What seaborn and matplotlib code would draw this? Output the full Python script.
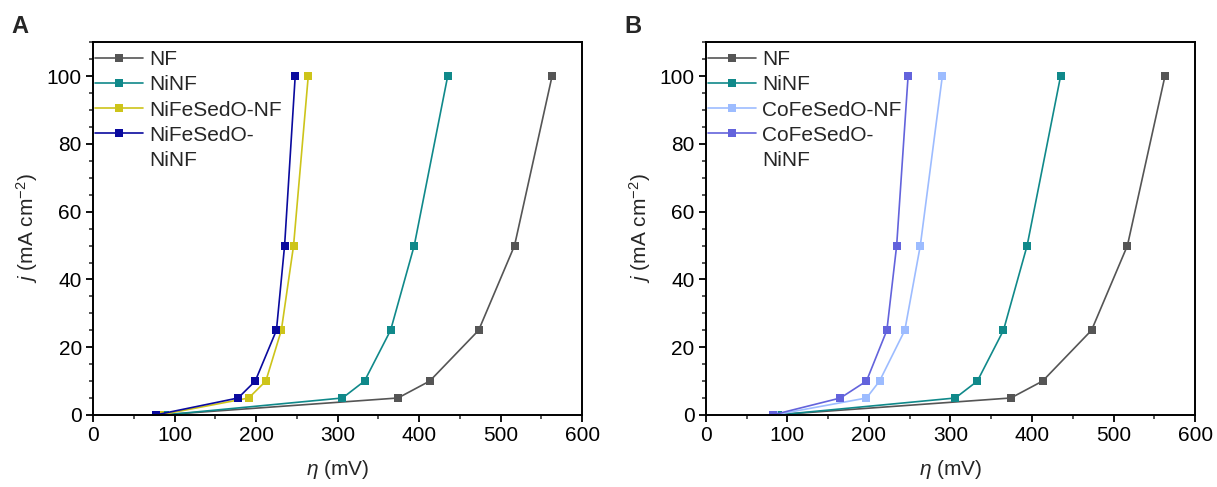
import numpy as np
import pandas as pd
import matplotlib
matplotlib.use("Agg")
import matplotlib.pyplot as plt
import seaborn as sns
from matplotlib.lines import Line2D
from matplotlib.ticker import MultipleLocator

sns.set_theme(style="ticks")
plt.rcParams['font.family'] = ['Liberation Sans', 'DejaVu Sans']
plt.rcParams['mathtext.fontset'] = 'custom'
plt.rcParams['mathtext.it'] = 'Liberation Sans:italic'
plt.rcParams['mathtext.rm'] = 'Liberation Sans'

# current density levels (mA cm^-2)
j_levels = [0, 5, 10, 25, 50, 100]

# overpotentials (mV)
eta_nf = [84, 374, 413, 473, 517, 563]
eta_ninf = [88, 306, 333, 365, 394, 435]
eta_nife_nf = [82, 191, 212, 231, 246, 264]
eta_nife_ninf = [77, 178, 199, 225, 235, 248]
eta_cofe_nf = [84, 197, 213, 244, 263, 290]
eta_cofe_ninf = [82, 165, 197, 222, 234, 248]

names_a = ['NF', 'NiNF', 'NiFeSedO-NF', 'NiFeSedO-NiNF']
names_b = ['NF', 'NiNF', 'CoFeSedO-NF', 'CoFeSedO-NiNF']
colors_a = ['#555555', '#10898a', '#cdc41a', '#0a0a9e']
colors_b = ['#555555', '#10898a', '#9dbcff', '#6363dc']


def make_df(names, etas):
    rows = []
    for n, e in zip(names, etas):
        for x, y in zip(e, j_levels):
            rows.append({'sample': n, 'eta': x, 'j': y})
    return pd.DataFrame(rows)


df_a = make_df(names_a, [eta_nf, eta_ninf, eta_nife_nf, eta_nife_ninf])
df_b = make_df(names_b, [eta_nf, eta_ninf, eta_cofe_nf, eta_cofe_ninf])

fs = 15
fig = plt.figure(figsize=(12.17, 4.87), dpi=100)
ax_a = fig.add_axes([0.0764, 0.148, 0.402, 0.765])
ax_b = fig.add_axes([0.580, 0.148, 0.402, 0.765])

for ax, df, names, cols, letter, lx in [(ax_a, df_a, names_a, colors_a, 'A', 0.009),
                                        (ax_b, df_b, names_b, colors_b, 'B', 0.513)]:
    sns.lineplot(data=df, x='eta', y='j', hue='sample', hue_order=names,
                 palette=cols, marker='s', markersize=6, markeredgewidth=0,
                 linewidth=1.2, sort=False, ax=ax, estimator=None)
    ax.set_xlim(0, 600)
    ax.set_ylim(0, 110)
    ax.xaxis.set_major_locator(MultipleLocator(100))
    ax.xaxis.set_minor_locator(MultipleLocator(50))
    ax.yaxis.set_major_locator(MultipleLocator(20))
    ax.yaxis.set_minor_locator(MultipleLocator(5))
    ax.tick_params(which='major', length=5, width=1.3, labelsize=fs,
                   colors='black', direction='out', pad=3)
    ax.tick_params(which='minor', length=3, width=1.1, direction='out')
    for s in ax.spines.values():
        s.set_visible(True)
        s.set_linewidth(1.4)
        s.set_color('black')
    ax.set_xlabel(r'$\mathit{\eta}$ (mV)', fontsize=fs, labelpad=9)
    ax.set_ylabel(r'$\mathit{j}$ (mA cm$^{-2}$)', fontsize=fs, labelpad=5)

    # long last label wraps onto a second legend row
    handles, labels = ax.get_legend_handles_labels()
    labels = labels[:3] + [labels[3].split('-')[0] + '-']
    handles = handles + [Line2D([], [], color='none')]
    labels = labels + [names[3].split('-')[1]]
    ax.legend(handles, labels, loc='upper left', bbox_to_anchor=(0.0, 0.985),
              frameon=False, fontsize=fs, handlelength=2.3, borderaxespad=0.0,
              borderpad=0.1, labelspacing=0.3, handletextpad=0.3)
    fig.text(lx, 0.945, letter, fontsize=17, fontweight='bold',
             va='center', ha='left')

fig.savefig('out.png', dpi=100)
